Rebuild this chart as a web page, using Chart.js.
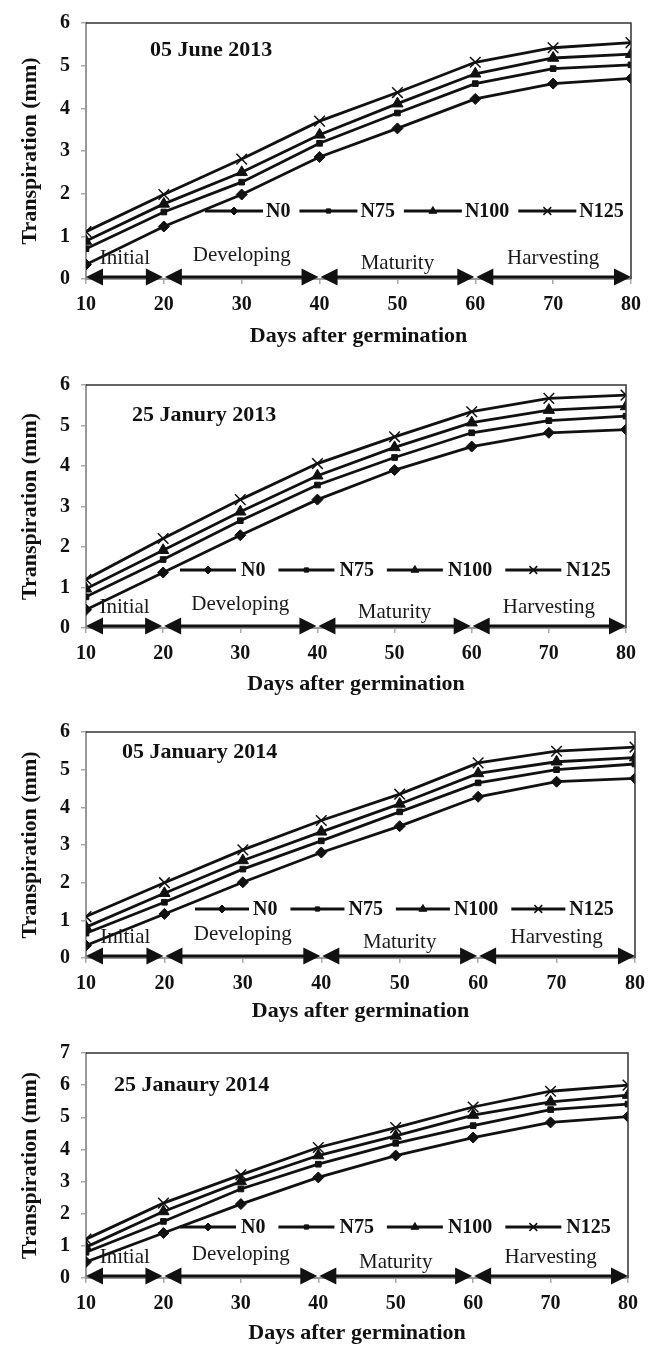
<!DOCTYPE html>
<html>
<head>
<meta charset="utf-8">
<script src="https://cdn.jsdelivr.net/npm/chart.js"></script>
<style>
  body { margin: 0; background: #fff; width: 654px; height: 1347px; position: relative; overflow: hidden; }
  .panel { position: absolute; left: 0; width: 654px; }
</style>
</head>
<body>
<div class="panel" id="p0"><canvas id="c0"></canvas></div>
<div class="panel" id="p1"><canvas id="c1"></canvas></div>
<div class="panel" id="p2"><canvas id="c2"></canvas></div>
<div class="panel" id="p3"><canvas id="c3"></canvas></div>
<script>
// ---- data ----
const days = [10, 20, 30, 40, 50, 60, 70, 80];
const seriesNames = ['N0', 'N75', 'N100', 'N125'];
const panelTitles = ['05 June 2013', '25 Janury 2013', '05 January 2014', '25 Janaury 2014'];
const yMaxes = [6, 6, 6, 7];
const stageNames = ['Initial', 'Developing', 'Maturity', 'Harvesting'];
const stageStart = [10, 20, 40, 60];
const stageEnd = [20, 40, 60, 80];

const jun13_N0   = [0.34, 1.23, 1.98, 2.86, 3.53, 4.22, 4.58, 4.70];
const jun13_N75  = [0.71, 1.57, 2.27, 3.18, 3.89, 4.58, 4.93, 5.02];
const jun13_N100 = [0.89, 1.76, 2.50, 3.38, 4.11, 4.81, 5.18, 5.27];
const jun13_N125 = [1.11, 1.98, 2.81, 3.70, 4.37, 5.08, 5.42, 5.54];

const jan13_N0   = [0.45, 1.37, 2.29, 3.17, 3.90, 4.48, 4.82, 4.90];
const jan13_N75  = [0.77, 1.69, 2.65, 3.53, 4.21, 4.82, 5.12, 5.23];
const jan13_N100 = [0.97, 1.92, 2.87, 3.76, 4.46, 5.07, 5.38, 5.47];
const jan13_N125 = [1.20, 2.21, 3.17, 4.06, 4.72, 5.34, 5.67, 5.75];

const jan14a_N0   = [0.33, 1.17, 2.01, 2.80, 3.50, 4.28, 4.68, 4.77];
const jan14a_N75  = [0.66, 1.48, 2.36, 3.11, 3.88, 4.65, 5.00, 5.15];
const jan14a_N100 = [0.82, 1.72, 2.59, 3.35, 4.09, 4.90, 5.21, 5.32];
const jan14a_N125 = [1.10, 2.00, 2.87, 3.65, 4.35, 5.18, 5.49, 5.60];

const jan14b_N0   = [0.50, 1.40, 2.30, 3.13, 3.81, 4.37, 4.84, 5.02];
const jan14b_N75  = [0.80, 1.76, 2.77, 3.54, 4.19, 4.74, 5.24, 5.41];
const jan14b_N100 = [0.96, 2.07, 3.00, 3.81, 4.42, 5.07, 5.48, 5.69];
const jan14b_N125 = [1.21, 2.33, 3.21, 4.06, 4.68, 5.32, 5.81, 6.00];

const panelSeries = [
  [jun13_N0, jun13_N75, jun13_N100, jun13_N125],
  [jan13_N0, jan13_N75, jan13_N100, jan13_N125],
  [jan14a_N0, jan14a_N75, jan14a_N100, jan14a_N125],
  [jan14b_N0, jan14b_N75, jan14b_N100, jan14b_N125]
];

// ---- layout / style ----
const FONT = "'Liberation Serif', 'Times New Roman', serif";
const pointStyles = ['rectRot', 'rect', 'triangle', 'crossRot'];
const pointRadii = [5.5, 4, 6.5, 7.5];
const legendRadii = [4, 3, 4.5, 5.5];
const stageLift = [13, 16, 8, 13];

const layout = [
  { top: 0,    height: 351, padTop: 17, axisH: 72, padRight: 23, xTitlePad: 1, titleX: 150, titleY: 50, legX: 205, legY: 211, legLine: 58, legGap: 3, legItemGap: 9 },
  { top: 351,  height: 348, padTop: 34, axisH: 71, padRight: 28, xTitlePad: 1, titleX: 132, titleY: 64, legX: 180, legY: 219, legLine: 56, legGap: 5, legItemGap: 13 },
  { top: 699,  height: 327, padTop: 33, axisH: 68, padRight: 16, xTitlePad: 1, titleX: 122, titleY: 53, legX: 195, legY: 210, legLine: 54, legGap: 4, legItemGap: 13 },
  { top: 1026, height: 321, padTop: 27, axisH: 69, padRight: 26, xTitlePad: 0, titleX: 114, titleY: 59, legX: 180, legY: 201, legLine: 56, legGap: 5, legItemGap: 13 }
];

function drawArrow(ctx, x1, x2, y) {
  const hl = 17, hh = 8.5;
  ctx.lineWidth = 3;
  ctx.beginPath();
  ctx.moveTo(x1 + hl - 2, y);
  ctx.lineTo(x2 - hl + 2, y);
  ctx.stroke();
  ctx.beginPath();
  ctx.moveTo(x1, y); ctx.lineTo(x1 + hl, y - hh); ctx.lineTo(x1 + hl, y + hh); ctx.closePath();
  ctx.fill();
  ctx.beginPath();
  ctx.moveTo(x2, y); ctx.lineTo(x2 - hl, y - hh); ctx.lineTo(x2 - hl, y + hh); ctx.closePath();
  ctx.fill();
}

const extras = {
  id: 'extras',
  afterDatasetsDraw(chart, args, opts) {
    const L = layout[opts.idx];
    const { ctx, chartArea: a, scales: { x, y } } = chart;
    ctx.save();

    // frame top + right
    ctx.strokeStyle = '#333';
    ctx.lineWidth = 1.5;
    ctx.beginPath();
    ctx.moveTo(a.left, a.top);
    ctx.lineTo(a.right, a.top);
    ctx.lineTo(a.right, a.bottom);
    ctx.stroke();

    // growth stage arrows
    const y0 = y.getPixelForValue(0) - 2;
    ctx.strokeStyle = '#111';
    ctx.fillStyle = '#111';
    ctx.font = '21px ' + FONT;
    ctx.textAlign = 'center';
    ctx.textBaseline = 'alphabetic';
    stageNames.forEach((name, i) => {
      const x1 = x.getPixelForValue(stageStart[i]) + (i > 0 ? 1 : 0);
      const x2 = x.getPixelForValue(stageEnd[i]) - (i < stageNames.length - 1 ? 1 : 0);
      drawArrow(ctx, x1, x2, y0);
      ctx.fillStyle = '#1a1a1a';
      ctx.fillText(name, x.getPixelForValue((stageStart[i] + stageEnd[i]) / 2), y0 - stageLift[i]);
      ctx.fillStyle = '#111';
    });

    // legend
    ctx.font = 'bold 20px ' + FONT;
    ctx.textAlign = 'left';
    ctx.textBaseline = 'middle';
    let lx = L.legX;
    const ly = L.legY;
    seriesNames.forEach((name, i) => {
      ctx.strokeStyle = '#111';
      ctx.lineWidth = 2.8;
      ctx.beginPath();
      ctx.moveTo(lx, ly);
      ctx.lineTo(lx + L.legLine, ly);
      ctx.stroke();
      ctx.fillStyle = '#111';
      ctx.lineWidth = pointStyles[i] === 'crossRot' ? 1.5 : 1;
      Chart.helpers.drawPoint(ctx, { pointStyle: pointStyles[i], radius: legendRadii[i], borderWidth: ctx.lineWidth, rotation: 0 }, lx + L.legLine / 2, ly);
      lx += L.legLine + L.legGap;
      ctx.fillStyle = '#111';
      ctx.fillText(name, lx, ly + 1);
      lx += ctx.measureText(name).width + L.legItemGap;
    });

    // date caption
    ctx.font = 'bold 22px ' + FONT;
    ctx.fillText(panelTitles[opts.idx], L.titleX, L.titleY);
    ctx.restore();
  }
};

panelSeries.forEach((series, idx) => {
  const L = layout[idx];
  const box = document.getElementById('p' + idx);
  box.style.top = L.top + 'px';
  box.style.height = L.height + 'px';

  new Chart(document.getElementById('c' + idx), {
    type: 'line',
    data: {
      datasets: series.map((vals, i) => ({
        label: seriesNames[i],
        data: days.map((d, k) => ({ x: d, y: vals[k] })),
        borderColor: '#111',
        backgroundColor: '#111',
        borderWidth: 2.8,
        pointStyle: pointStyles[i],
        pointRadius: pointRadii[i],
        pointBackgroundColor: '#111',
        pointBorderColor: '#111',
        pointBorderWidth: pointStyles[i] === 'crossRot' ? 1.5 : 1,
        tension: 0,
        fill: false
      }))
    },
    plugins: [extras],
    options: {
      responsive: true,
      maintainAspectRatio: false,
      animation: false,
      layout: { padding: { top: L.padTop, right: L.padRight, left: 0, bottom: 0 } },
      plugins: {
        legend: { display: false },
        tooltip: { enabled: false },
        extras: { idx: idx }
      },
      scales: {
        x: {
          type: 'linear',
          min: 10,
          max: 80,
          ticks: { stepSize: 10, padding: 9, color: '#111', font: { family: FONT, size: 20, weight: 'bold' } },
          grid: { display: true, drawOnChartArea: false, tickLength: 5, color: '#aaa', lineWidth: 1.5 },
          border: { display: true, color: '#999', width: 2 },
          title: { display: true, text: 'Days after germination', color: '#111', padding: { top: 0, bottom: L.xTitlePad }, font: { family: FONT, size: 22, weight: 'bold' } },
          afterFit: s => { s.height = L.axisH; }
        },
        y: {
          min: 0,
          max: yMaxes[idx],
          ticks: { stepSize: 1, padding: 11, color: '#111', font: { family: FONT, size: 20, weight: 'bold' } },
          grid: { display: true, drawOnChartArea: false, tickLength: 5, color: '#aaa', lineWidth: 1.5 },
          border: { display: true, color: '#999', width: 2 },
          title: { display: true, text: 'Transpiration (mm)', color: '#111', padding: { top: 17, bottom: 0 }, font: { family: FONT, size: 22, weight: 'bold' } },
          afterFit: s => { s.width = 86; }
        }
      }
    }
  });
});
</script>
</body>
</html>
